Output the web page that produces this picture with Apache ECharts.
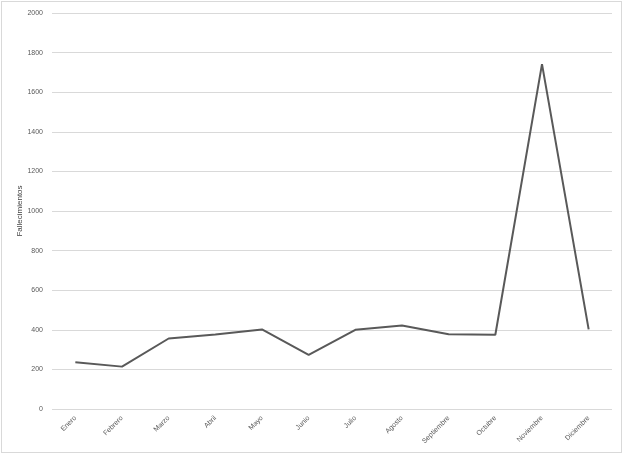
<!DOCTYPE html>
<html><head><meta charset="utf-8">
<script src="https://cdn.jsdelivr.net/npm/echarts@6/dist/echarts.min.js"></script>
<style>
html,body{margin:0;padding:0;background:#fff;}
#frame{position:absolute;left:1px;top:1px;width:621px;height:452px;border:1px solid #d9d9d9;box-sizing:border-box;}
#c{position:absolute;left:0;top:0;width:626px;height:457px;}
</style></head>
<body>
<div id="frame"></div>
<div id="c"></div>
<script>
const categories = ['Enero','Febrero','Marzo','Abril','Mayo','Junio','Julio','Agosto','Septiembre','Octubre','Noviembre','Diciembre'];
const fallecimientos = [236, 214, 356, 376, 402, 273, 400, 422, 378, 375, 1742, 402];
const yTicks = [0, 200, 400, 600, 800, 1000, 1200, 1400, 1600, 1800, 2000];

const chart = echarts.init(document.getElementById('c'));
chart.setOption({
  animation: false,
  grid: {left: 52, right: 14, top: 13, bottom: 48, containLabel: false},
  xAxis: {
    type: 'category', data: categories, boundaryGap: true,
    axisLine: {show: false}, axisTick: {show: false},
    axisLabel: {rotate: 45, fontSize: 7, color: '#595959', fontFamily: 'Liberation Sans, Arial', margin: 8}
  },
  yAxis: {
    type: 'value', min: yTicks[0], max: yTicks[yTicks.length-1], interval: 200,
    name: 'Fallecimientos', nameLocation: 'middle', nameGap: 28, nameRotate: 90,
    nameMoveOverlap: false,
    nameTextStyle: {fontSize: 8, color: '#404040', fontFamily: 'Liberation Sans, Arial'},
    axisLine: {show: false}, axisTick: {show: false},
    axisLabel: {fontSize: 7, color: '#595959', fontFamily: 'Liberation Sans, Arial', margin: 9,
      formatter: v => String(v)},
    splitLine: {lineStyle: {color: '#d9d9d9', width: 1}}
  },
  series: [{
    type: 'line', data: fallecimientos, symbol: 'none',
    lineStyle: {color: '#595959', width: 2}
  }]
});
</script>
</body></html>
